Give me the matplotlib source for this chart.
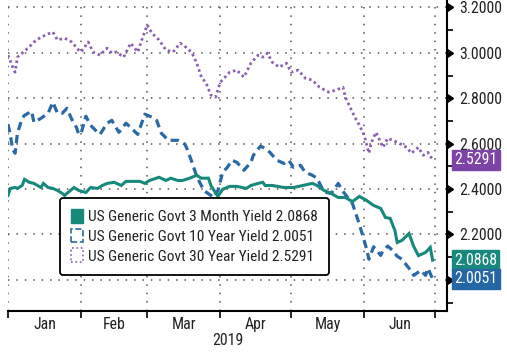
import matplotlib
matplotlib.use("Agg")
import matplotlib.pyplot as plt
import matplotlib.dates as mdates
import matplotlib.font_manager as fm
from matplotlib.patches import Patch
import numpy as np
import pandas as pd

# pick a narrow font if one is installed
available = {f.name for f in fm.fontManager.ttflist}
family = "Liberation Sans"
for cand in ["Liberation Sans Narrow", "Arial Narrow", "Roboto Condensed", "DejaVu Sans Condensed",
             "Open Sans Condensed", "Noto Sans Condensed"]:
    if cand in available:
        family = cand
        break
plt.rcParams['font.family'] = [family, 'DejaVu Sans']

# ---------------- data ----------------
dates_30y = ["2019-01-01","2019-01-03","2019-01-04","2019-01-05","2019-01-07","2019-01-10","2019-01-12",
             "2019-01-15","2019-01-20","2019-01-22","2019-01-25","2019-01-28","2019-01-31","2019-02-01",
             "2019-02-04","2019-02-06","2019-02-09","2019-02-12","2019-02-14","2019-02-16","2019-02-19",
             "2019-02-22","2019-02-25","2019-02-27","2019-03-01","2019-03-03","2019-03-06","2019-03-09",
             "2019-03-12","2019-03-15","2019-03-18","2019-03-20","2019-03-22","2019-03-24","2019-03-26",
             "2019-03-28","2019-03-30","2019-04-01","2019-04-03","2019-04-05","2019-04-08","2019-04-11",
             "2019-04-14","2019-04-17","2019-04-19","2019-04-21","2019-04-23","2019-04-26","2019-04-29",
             "2019-05-01","2019-05-04","2019-05-07","2019-05-10","2019-05-13","2019-05-17","2019-05-20",
             "2019-05-23","2019-05-24","2019-05-26","2019-05-28","2019-05-30","2019-06-01","2019-06-03",
             "2019-06-04","2019-06-06","2019-06-09","2019-06-11","2019-06-15","2019-06-19","2019-06-21",
             "2019-06-24","2019-06-26","2019-06-28","2019-06-30"]
yield_30y = [2.990,2.937,2.915,2.981,2.999,3.026,3.048,
             3.070,3.092,3.057,3.065,3.048,3.012,3.004,
             3.048,3.004,2.990,3.021,2.999,3.004,2.981,
             3.043,3.004,3.065,3.123,3.087,3.057,3.012,
             3.004,3.043,3.021,2.999,2.955,2.893,2.867,
             2.814,2.805,2.871,2.893,2.915,2.924,2.893,
             2.955,2.990,2.981,2.999,2.959,2.937,2.955,
             2.915,2.924,2.889,2.880,2.849,2.827,2.836,
             2.849,2.805,2.761,2.717,2.681,2.637,2.558,
             2.604,2.650,2.584,2.624,2.606,2.584,2.558,
             2.584,2.549,2.562,2.529]

dates_10y = ["2019-01-01","2019-01-02","2019-01-03","2019-01-04","2019-01-05","2019-01-07","2019-01-08",
             "2019-01-11","2019-01-12","2019-01-15","2019-01-18","2019-01-20","2019-01-22","2019-01-24",
             "2019-01-26","2019-01-28","2019-01-30","2019-01-31","2019-02-01","2019-02-03","2019-02-05",
             "2019-02-08","2019-02-09","2019-02-12","2019-02-14","2019-02-17","2019-02-20","2019-02-22",
             "2019-02-25","2019-02-28","2019-03-03","2019-03-05","2019-03-07","2019-03-10","2019-03-14",
             "2019-03-17","2019-03-18","2019-03-20","2019-03-22","2019-03-25","2019-03-28","2019-03-29",
             "2019-03-31","2019-04-02","2019-04-04","2019-04-06","2019-04-08","2019-04-11","2019-04-14",
             "2019-04-15","2019-04-18","2019-04-20","2019-04-22","2019-04-25","2019-04-28","2019-04-30",
             "2019-05-02","2019-05-05","2019-05-07","2019-05-10","2019-05-12","2019-05-14","2019-05-16",
             "2019-05-18","2019-05-21","2019-05-23","2019-05-25","2019-05-27","2019-05-29","2019-05-31",
             "2019-06-02","2019-06-03","2019-06-05","2019-06-08","2019-06-09","2019-06-11","2019-06-13",
             "2019-06-15","2019-06-17","2019-06-20","2019-06-22","2019-06-25","2019-06-27","2019-06-28",
             "2019-06-30"]
yield_10y = [2.686,2.637,2.575,2.558,2.646,2.712,2.725,
             2.743,2.694,2.712,2.734,2.783,2.734,2.734,
             2.756,2.708,2.672,2.641,2.646,2.721,2.681,
             2.650,2.641,2.690,2.703,2.650,2.690,2.672,
             2.641,2.730,2.717,2.703,2.646,2.615,2.615,
             2.598,2.575,2.518,2.456,2.394,2.372,2.363,
             2.394,2.474,2.496,2.527,2.518,2.483,2.518,
             2.549,2.589,2.580,2.562,2.527,2.513,2.527,
             2.496,2.505,2.474,2.461,2.448,2.407,2.385,
             2.381,2.425,2.390,2.363,2.337,2.275,2.209,
             2.137,2.091,2.146,2.108,2.130,2.149,2.130,
             2.104,2.091,2.051,2.020,2.042,2.020,2.051,
             2.005]

dates_3m = ["2019-01-01","2019-01-02","2019-01-04","2019-01-05","2019-01-07","2019-01-08","2019-01-10",
            "2019-01-12","2019-01-15","2019-01-16","2019-01-18","2019-01-20","2019-01-22","2019-01-24",
            "2019-01-25","2019-01-27","2019-01-29","2019-01-31","2019-02-03","2019-02-05","2019-02-08",
            "2019-02-10","2019-02-12","2019-02-15","2019-02-18","2019-02-20","2019-02-23","2019-02-26",
            "2019-02-28","2019-03-02","2019-03-06","2019-03-09","2019-03-11","2019-03-14","2019-03-16",
            "2019-03-19","2019-03-22","2019-03-24","2019-03-27","2019-03-28","2019-03-31","2019-04-02",
            "2019-04-05","2019-04-08","2019-04-12","2019-04-14","2019-04-17","2019-04-19","2019-04-20",
            "2019-04-23","2019-04-28","2019-05-02","2019-05-06","2019-05-10","2019-05-12","2019-05-15",
            "2019-05-18","2019-05-21","2019-05-24","2019-05-27","2019-05-30","2019-06-02","2019-06-05",
            "2019-06-08","2019-06-10","2019-06-12","2019-06-14","2019-06-15","2019-06-17","2019-06-20",
            "2019-06-22","2019-06-24","2019-06-27","2019-06-29","2019-06-30"]
yield_3m = [2.372,2.403,2.407,2.403,2.416,2.443,2.430,
            2.425,2.407,2.425,2.407,2.403,2.394,2.381,
            2.372,2.390,2.407,2.394,2.385,2.407,2.403,
            2.416,2.425,2.430,2.416,2.434,2.434,2.434,
            2.425,2.438,2.452,2.438,2.448,2.438,2.438,
            2.448,2.461,2.448,2.448,2.416,2.368,2.399,
            2.412,2.412,2.403,2.416,2.425,2.430,2.416,
            2.416,2.407,2.407,2.416,2.425,2.416,2.394,
            2.381,2.363,2.363,2.345,2.368,2.350,2.328,
            2.315,2.275,2.271,2.218,2.165,2.174,2.204,
            2.147,2.107,2.121,2.143,2.087]

names = ["US Generic Govt 3 Month Yield", "US Generic Govt 10 Year Yield", "US Generic Govt 30 Year Yield"]
last_vals = ["2.0868", "2.0051", "2.5291"]
month_labels = ["Jan", "Feb", "Mar", "Apr", "May", "Jun"]
year_label = "2019"
y_ticks = [2.0, 2.2, 2.4, 2.6, 2.8, 3.0, 3.2]

# ---------------- style ----------------
c3m = "#17897c"
c10 = "#2a69a3"
c30 = "#8a5fb0"
box3m = "#17897c"
box10 = "#2566a5"
box30 = "#7d43a6"
TXT = "#222222"

fig = plt.figure(figsize=(5.07, 3.55), dpi=100)

# fit font size so the legend line is about as wide as in the reference (~225 px)
renderer = fig.canvas.get_renderer()
probe = fig.text(0, 0, f"{names[0]} {last_vals[0]}", fontsize=10)
w10 = probe.get_window_extent(renderer).width
probe.remove()
FS = min(12.0, 10.0 * 228.0 / w10)

ax = fig.add_axes([8/507, 44/355, 439/507, 311/355])

d30 = pd.to_datetime(dates_30y)
d10 = pd.to_datetime(dates_10y)
d3 = pd.to_datetime(dates_3m)

ax.plot(d30, yield_30y, color=c30, lw=2.0, linestyle=(0, (0.9, 1.1)), zorder=3)
ax.plot(d10, yield_10y, color=c10, lw=2.3, linestyle=(0, (2.6, 1.6)), zorder=4)
ax.plot(d3, yield_3m, color=c3m, lw=2.2, solid_joinstyle='miter', zorder=5)

x0 = pd.Timestamp("2019-01-01")
ax.set_xlim(mdates.date2num(x0), mdates.date2num(x0) + 186.1)
ax.set_ylim(1.863, 3.233)

for s in ["left", "top"]:
    ax.spines[s].set_visible(False)
ax.spines["right"].set_linewidth(1.5)
ax.spines["bottom"].set_linewidth(1.5)

# y axis on right
ax.yaxis.tick_right()
ax.set_yticks(y_ticks)
ax.set_yticklabels(["" if v == 2.0 else f"{v:.4f}" for v in y_ticks], fontsize=FS + 0.4, color=TXT)
ax.yaxis.set_minor_locator(matplotlib.ticker.MultipleLocator(0.1))
ax.tick_params(axis="y", which="major", length=6, width=1, pad=3, right=True, left=False)
ax.tick_params(axis="y", which="minor", length=4, width=1.2, right=True, left=False, direction="out")
for t in ax.yaxis.get_major_ticks():
    t.tick2line.set_marker(9)
    t.tick2line.set_markersize(6)
    t.tick2line.set_markerfacecolor("black")

# x axis
month_starts = pd.date_range("2019-01-01", "2019-07-01", freq="MS")
ax.set_xticks(month_starts)
ax.set_xticklabels([])
mids = [ms + (month_starts[i+1] - ms) / 2 for i, ms in enumerate(month_starts[:-1])]
ax.set_xticks(mids, minor=True)
ax.set_xticklabels(month_labels, minor=True, fontsize=FS + 0.4, color=TXT)
ax.tick_params(axis="x", which="major", length=5, width=1.2, direction="out")
ax.tick_params(axis="x", which="minor", length=0, pad=4)
ax.set_xlabel(year_label, fontsize=FS + 0.4, color=TXT, labelpad=1)

# grid
ax.grid(True, which="major", axis="both", color="#555555", lw=1.1, linestyle=(0, (1, 4.5)))
ax.set_axisbelow(True)

# value boxes on right
tr = matplotlib.transforms.blended_transform_factory(ax.transAxes, ax.transData)
for val, col in [(last_vals[2], box30), (last_vals[0], box3m), (last_vals[1], box10)]:
    ax.text(1.016, float(val), val, transform=tr, fontsize=FS + 0.4, color="white", va="center", ha="left",
            clip_on=False, zorder=10,
            bbox=dict(boxstyle="square,pad=0.15", fc=col, ec=col))

# legend
handles = [Patch(facecolor=c3m, edgecolor=c3m),
           Patch(facecolor="none", edgecolor=c10, linestyle="--", lw=1.2),
           Patch(facecolor="none", edgecolor=c30, linestyle=":", lw=1.2)]
labels = [f"{n} {v}" for n, v in zip(names, last_vals)]
leg = ax.legend(handles, labels, loc="upper left", bbox_to_anchor=(52/439, 1 - 198/311), borderaxespad=0,
                fontsize=FS, frameon=True, fancybox=True, handlelength=0.75, handleheight=1.0,
                handletextpad=0.35, labelspacing=0.3, borderpad=0.72)
leg.get_frame().set_edgecolor("black")
leg.get_frame().set_linewidth(1.3)
leg.get_frame().set_alpha(1)
for t in leg.get_texts():
    t.set_color(TXT)
leg.set_zorder(20)

fig.savefig("out.png", dpi=100)
